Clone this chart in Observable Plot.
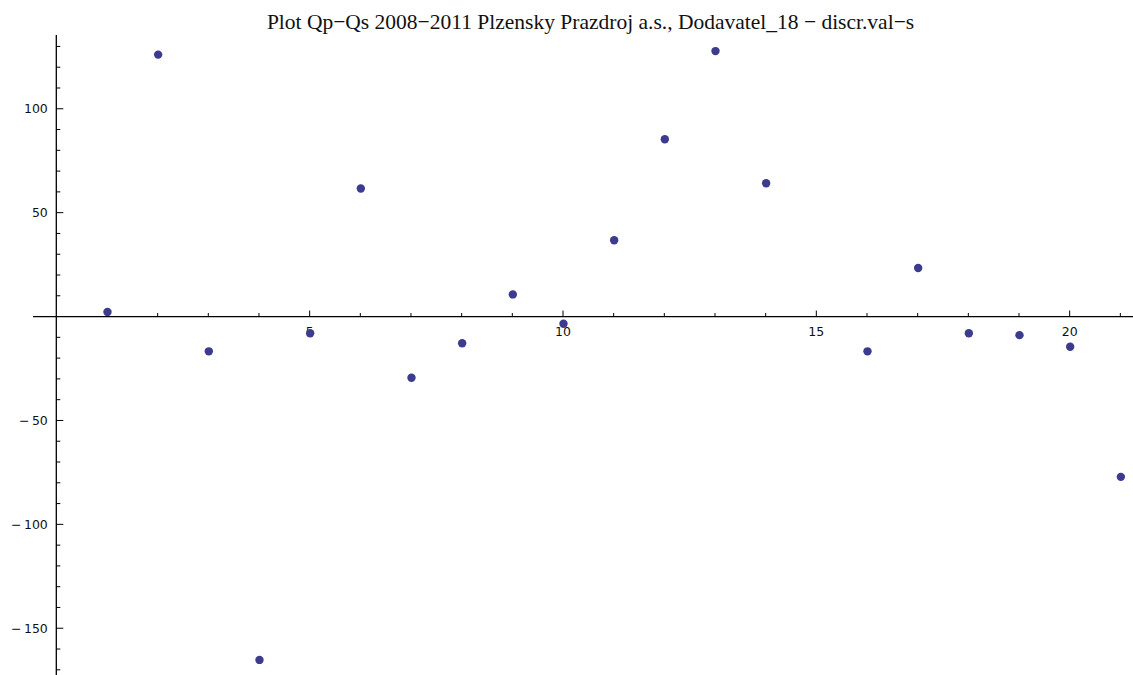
<!DOCTYPE html>
<html>
<head>
<meta charset="utf-8">
<script src="https://cdn.jsdelivr.net/npm/d3@7"></script>
<script src="https://cdn.jsdelivr.net/npm/@observablehq/plot@0.6"></script>
<style>
  html, body { margin: 0; padding: 0; background: #fff; }
  #wrap { position: relative; width: 1133px; height: 675px; overflow: hidden; }
  #title { position: absolute; left: 0; top: 9.5px; width: 1133px; padding-left: 48px; box-sizing: border-box;
           text-align: center; font-family: "Liberation Serif", "Times New Roman", serif; font-size: 21.5px;
           line-height: 24px; color: #111; white-space: nowrap; }
  #chart { position: absolute; left: 0; top: 35px; }
</style>
</head>
<body>
<div id="wrap">
  <div id="title">Plot Qp−Qs 2008−2011 Plzensky Prazdroj a.s., Dodavatel_18 − discr.val−s</div>
  <div id="chart"></div>
</div>
<script>
// Data (index → Qp−Qs value)
const indices = [1, 2, 3, 4, 5, 6, 7, 8, 9, 10, 11, 12, 13, 14, 16, 17, 18, 19, 20, 21];
const values  = [2.4, 126.3, -16.5, -165, -7.8, 61.9, -29.2, -12.6, 10.9, -3.2, 37, 85.6, 128, 64.4, -16.5, 23.6, -7.8, -8.7, -14.3, -76.9];

// Axis ticks
const xMajorTicks = [5, 10, 15, 20];
const xMinorTicks = [1, 2, 3, 4, 6, 7, 8, 9, 11, 12, 13, 14, 16, 17, 18, 19, 21];
const yMajorTicks = [-150, -100, -50, 50, 100];
const yMinorTicks = [-170, -160, -140, -130, -120, -110, -90, -80, -70, -60, -40, -30, -20, -10,
                     10, 20, 30, 40, 60, 70, 80, 90, 110, 120, 130];

const data = indices.map((x, i) => ({x, y: values[i]}));
const fmtY = v => (v < 0 ? "\u2212\u2009" + Math.abs(v) : String(v));

function originAxes(index, scales, values, dims) {
  const sx = scales.x, sy = scales.y;
  const x0 = sx(0), y0 = sy(0);
  const g = d3.create("svg:g").attr("stroke", "#000").attr("fill", "none");
  // axis lines
  g.append("line").attr("x1", dims.marginLeft).attr("x2", dims.width).attr("y1", y0).attr("y2", y0).attr("stroke-width", 1.3);
  g.append("line").attr("x1", x0).attr("x2", x0).attr("y1", 0).attr("y2", dims.height).attr("stroke-width", 1.3);
  // x ticks (upward)
  for (const t of xMinorTicks) g.append("line").attr("x1", sx(t)).attr("x2", sx(t)).attr("y1", y0).attr("y2", y0 - 3.5);
  for (const t of xMajorTicks) g.append("line").attr("x1", sx(t)).attr("x2", sx(t)).attr("y1", y0).attr("y2", y0 - 6);
  // y ticks (rightward)
  for (const t of yMinorTicks) g.append("line").attr("x1", x0).attr("x2", x0 + 4).attr("y1", sy(t)).attr("y2", sy(t));
  for (const t of yMajorTicks) g.append("line").attr("x1", x0).attr("x2", x0 + 7).attr("y1", sy(t)).attr("y2", sy(t));
  const lab = g.append("g").attr("stroke", "none").attr("fill", "#111")
    .attr("font-family", "'DejaVu Sans', Verdana, sans-serif").attr("font-size", 12.5);
  for (const t of xMajorTicks) lab.append("text").attr("x", sx(t)).attr("y", y0 + 19.5).attr("text-anchor", "middle").text(String(t));
  for (const t of yMajorTicks) lab.append("text").attr("x", x0 - 8.5).attr("y", sy(t)).attr("dy", "0.36em").attr("text-anchor", "end").text(fmtY(t));
  return g.node();
}

const chart = Plot.plot({
  width: 1133,
  height: 640,
  marginLeft: 33,
  marginRight: 0,
  marginTop: 0,
  marginBottom: 0,
  x: {domain: [-0.46, 21.25], axis: null},
  y: {domain: [-172.5, 135.5], axis: null},
  marks: [
    originAxes,
    Plot.dot(data, {x: "x", y: "y", r: 4.2, fill: "#3d3b8e", stroke: "none"})
  ]
});
document.getElementById("chart").appendChild(chart);
</script>
</body>
</html>
